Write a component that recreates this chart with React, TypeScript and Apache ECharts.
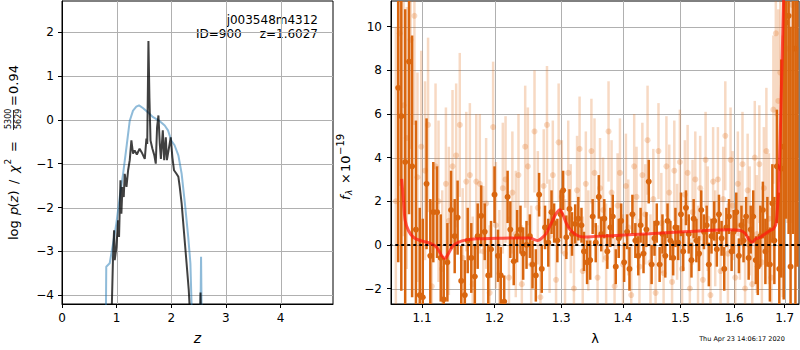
import React, { useEffect, useRef } from "react";
import * as echarts from "echarts";

// ---------- left panel: p(z) ----------
const pzTicksX = [0, 1, 2, 3, 4];
const pzTicksY = [-4, -3, -2, -1, 0, 1, 2];

const blueZ = [0.8, 0.81, 0.873, 0.935, 0.995, 1.057, 1.118, 1.18, 1.24, 1.3, 1.36, 1.41, 1.48, 1.575, 1.667, 1.79, 1.88, 1.94, 2.0, 2.06, 2.13, 2.19, 2.25, 2.31, 2.35, 2.38];
const blueY = [-5, -3.35, -3.27, -2.82, -2.36, -1.76, -1.23, -0.62, -0.02, 0.21, 0.3, 0.33, 0.27, 0.17, 0.06, -0.03, -0.13, -0.24, -0.47, -0.58, -0.81, -1.23, -1.91, -2.67, -3.27, -4.6];
const blueSpikeZ = [2.53, 2.545, 2.56];
const blueSpikeY = [-5, -3.12, -5];

const blackZ = [0.905, 0.934, 0.953, 0.965, 0.996, 1.026, 1.044, 1.07, 1.087, 1.106, 1.13, 1.148, 1.18, 1.21, 1.24, 1.27, 1.3, 1.33, 1.37, 1.42, 1.47, 1.515, 1.545, 1.56, 1.582, 1.6, 1.62, 1.655, 1.69, 1.716, 1.74, 1.765, 1.79, 1.81, 1.845, 1.87, 1.9, 1.92, 1.96, 1.99, 2.02, 2.05, 2.095, 2.13, 2.155, 2.19, 2.23, 2.28, 2.32, 2.35];
const blackY = [-4.6, -3.12, -2.52, -3.2, -2.9, -2.29, -2.67, -1.38, -2.14, -1.53, -1.76, -1.23, -1.53, -1.15, -0.92, -0.47, -0.77, -0.7, -0.79, -0.66, -0.77, -0.89, -0.43, -0.55, 1.8, 0.51, -0.47, -0.66, -0.81, -1.0, -0.17, 0.1, -0.55, -0.89, -0.24, -0.92, -0.4, -0.92, -0.62, -0.4, -0.85, -1.15, -1.23, -1.3, -1.53, -1.91, -2.52, -3.27, -3.88, -4.6];
const blackSpikeZ = [2.525, 2.535, 2.545];
const blackSpikeY = [-4.6, -3.94, -4.6];

// ---------- right panel: spectrum ----------
const specTicksLam = [1.1, 1.2, 1.3, 1.4, 1.5, 1.6, 1.7];
const specTicksY = [-2, 0, 2, 4, 6, 8, 10];

const lamDark = [1.069, 1.073, 1.078, 1.083, 1.087, 1.092, 1.097, 1.101, 1.106, 1.111, 1.115, 1.12, 1.125, 1.129, 1.134, 1.139, 1.144, 1.148, 1.153, 1.158, 1.162, 1.167, 1.172, 1.176, 1.181, 1.186, 1.191, 1.195, 1.2, 1.205, 1.209, 1.214, 1.219, 1.223, 1.228, 1.233, 1.238, 1.242, 1.247, 1.252, 1.256, 1.261, 1.266, 1.27, 1.275, 1.28, 1.285, 1.289, 1.294, 1.299, 1.303, 1.308, 1.313, 1.317, 1.322, 1.327, 1.332, 1.336, 1.341, 1.346, 1.35, 1.355, 1.36, 1.364, 1.369, 1.374, 1.379, 1.383, 1.388, 1.393, 1.397, 1.402, 1.407, 1.411, 1.416, 1.421, 1.426, 1.43, 1.435, 1.44, 1.444, 1.449, 1.454, 1.458, 1.463, 1.468, 1.473, 1.477, 1.482, 1.487, 1.491, 1.496, 1.501, 1.505, 1.51, 1.515, 1.52, 1.524, 1.529, 1.534, 1.538, 1.543, 1.548, 1.552, 1.557, 1.562, 1.567, 1.571, 1.576, 1.581, 1.585, 1.59, 1.595, 1.599, 1.604, 1.609, 1.614, 1.618, 1.623, 1.628, 1.632, 1.637, 1.642, 1.646, 1.651, 1.656, 1.661, 1.665, 1.67, 1.675, 1.679, 1.684, 1.689, 1.693, 1.698, 1.703, 1.708, 1.712, 1.717, 1.722, 1.726];
const fluxDark = [7.2, 5.9, 3.8, 8.4, 3.6, 0.7, -2.3, -2.4, 2.8, -0.5, 1.5, 1.5, -0.6, -2.5, -0.8, 1.6, 0.4, 1.25, -1.65, -2.3, 0.2, -0.6, -1.45, 0.4, 1.33, 0.6, -1.4, -0.2, 2.3, -0.5, -1.4, -2.6, 2.2, 0.7, -0.75, 0.4, 0.7, -0.4, 0.0, 0.4, -0.9, -1.4, 2.3, -1.1, 0.8, 0.1, 1.5, 1.0, 0.2, 1.4, 2.5, 0.35, 1.65, 0.5, 0.96, 1.2, 0.9, -0.3, -0.8, -0.7, 1.3, 0.1, 2.2, 0.5, 1.2, -0.3, 0.8, 1.3, -1.0, 0.3, 1.1, -0.8, 0.6, -1.1, 1.4, 0.2, -0.5, 0.9, -0.4, 0.7, 2.9, -0.9, 0.3, 1.0, -0.9, 0.5, -0.5, 1.1, 0.2, -0.6, 0.8, 0.1, 1.4, -0.3, 1.7, 0.5, -0.7, 1.2, 0.2, -0.4, 1.6, 0.6, 0.9, -0.9, 0.4, 1.1, -0.2, 1.4, 0.3, -1.1, 0.8, 1.3, -0.3, 0.6, 1.5, -0.5, 0.9, 0.2, 1.3, -0.6, 0.7, 1.3, -0.7, -1.0, 0.4, 1.6, -0.3, 0.6, -0.9, 1.9, 0.2, 3.6, -1.1, 3.5, 4.5, 10.2, 10.5, -1.0, 12.5, 9.0, 13.0];
const errDark = [8, 8, 7, 7, 6, 5, 4, 3.6, 3.0, 2.6, 2.3, 2.1, 2.0, 1.9, 1.8, 1.8, 1.7, 1.7, 1.6, 1.6, 1.5, 1.6, 1.4, 1.5, 1.4, 1.3, 1.4, 1.3, 1.3, 1.2, 1.3, 1.2, 1.2, 1.3, 1.1, 1.2, 1.1, 1.2, 1.1, 1.0, 1.1, 1.2, 1.0, 1.1, 1.0, 1.1, 1.0, 0.9, 1.0, 1.1, 0.9, 1.0, 0.9, 1.0, 0.9, 1.0, 0.8, 0.9, 1.0, 0.9, 0.8, 0.9, 1.0, 0.8, 0.9, 0.8, 0.9, 1.0, 0.8, 0.9, 0.8, 0.9, 0.8, 1.0, 0.9, 0.8, 0.9, 0.8, 0.9, 0.8, 1.0, 0.9, 0.8, 0.9, 0.8, 0.9, 1.0, 0.8, 0.9, 0.8, 0.9, 0.8, 1.0, 0.9, 0.8, 0.9, 0.8, 0.9, 1.0, 0.8, 0.9, 0.8, 0.9, 1.0, 0.8, 0.9, 0.8, 0.9, 0.8, 1.0, 0.9, 0.8, 0.9, 1.0, 0.9, 0.8, 0.9, 1.0, 0.9, 1.0, 1.1, 1.2, 1.1, 1.3, 1.4, 1.3, 1.5, 1.6, 1.7, 1.8, 2.0, 2.6, 3.5, 5, 7, 9, 10, 11, 12, 13, 14];

const lamLight = [1.066, 1.071, 1.076, 1.08, 1.085, 1.09, 1.094, 1.099, 1.104, 1.108, 1.113, 1.118, 1.122, 1.127, 1.132, 1.136, 1.141, 1.146, 1.151, 1.155, 1.16, 1.165, 1.169, 1.174, 1.179, 1.184, 1.188, 1.193, 1.198, 1.202, 1.207, 1.212, 1.216, 1.221, 1.226, 1.231, 1.235, 1.24, 1.245, 1.249, 1.254, 1.259, 1.264, 1.268, 1.273, 1.278, 1.282, 1.287, 1.292, 1.296, 1.301, 1.306, 1.311, 1.315, 1.32, 1.325, 1.329, 1.334, 1.339, 1.343, 1.348, 1.353, 1.358, 1.362, 1.367, 1.372, 1.376, 1.381, 1.386, 1.391, 1.395, 1.4, 1.405, 1.409, 1.414, 1.419, 1.423, 1.428, 1.433, 1.438, 1.442, 1.447, 1.452, 1.456, 1.461, 1.466, 1.47, 1.475, 1.48, 1.485, 1.489, 1.494, 1.499, 1.503, 1.508, 1.513, 1.517, 1.522, 1.527, 1.532, 1.536, 1.541, 1.546, 1.55, 1.555, 1.56, 1.564, 1.569, 1.574, 1.579, 1.583, 1.588, 1.593, 1.597, 1.602, 1.607, 1.611, 1.616, 1.621, 1.626, 1.63, 1.635, 1.64, 1.644, 1.649, 1.654, 1.658, 1.663, 1.668, 1.673, 1.677, 1.682, 1.687, 1.691, 1.696, 1.701, 1.705, 1.71, 1.715, 1.72, 1.724];
const fluxLight = [2.0, 9.7, 6.4, 4.9, 9.4, 10.5, 3.1, 4.5, 3.4, 5.5, -1.9, 3.6, 2.0, -1.1, 2.8, 1.1, 3.6, 4.1, 5.5, -0.6, 2.9, 3.2, -1.8, 2.9, 2.8, -0.3, 1.9, -2.2, 5.4, 0.9, -1.3, 2.6, 3.0, -1.5, 2.4, 0.5, 3.2, -1.8, 4.5, 3.6, -0.9, 5.2, 1.7, -2.4, 2.7, 5.5, 0.4, 3.2, -1.6, 4.7, 2.2, -0.4, 3.3, 1.2, -2.0, 2.5, 4.4, -1.2, 2.8, 0.2, 4.3, 3.3, -1.5, 2.6, 1.6, -0.6, 5.2, 2.4, -1.9, 1.8, 3.3, -0.9, 2.7, 0.8, -2.3, 3.6, 2.2, -1.0, 3.2, 1.4, 4.8, -0.8, 2.1, -2.2, 4.3, 1.0, -1.3, 3.6, 2.4, -1.7, 3.4, 0.6, 3.8, -1.1, 2.3, 3.3, -2.0, 1.5, 3.0, -0.5, 2.6, -1.6, 3.9, 1.2, -2.3, 2.9, 0.3, 3.0, -1.2, 2.1, 5.0, -0.4, 3.9, 1.8, -1.5, 2.8, 0.9, 3.7, -2.0, 2.5, 1.1, -1.8, 4.0, 0.5, 3.7, -0.8, 2.6, 4.3, 1.2, -1.5, 6.2, 9.7, 6.6, 7.9, 3.6, 12.0, 9.0, 14, 11, 13, 12];
const errLight = [8, 7, 6, 6, 5, 5, 4.8, 4.4, 4.1, 4.0, 3.9, 3.8, 3.7, 3.6, 3.5, 3.4, 3.5, 3.3, 3.3, 3.2, 3.2, 3.3, 3.1, 3.1, 3.2, 3.0, 3.0, 3.1, 3.0, 2.9, 2.9, 3.0, 2.9, 2.8, 2.8, 2.9, 2.8, 2.7, 2.8, 2.7, 2.7, 2.8, 2.6, 2.7, 2.6, 2.7, 2.6, 2.5, 2.6, 2.7, 2.6, 2.5, 2.4, 2.5, 2.6, 2.5, 2.4, 2.5, 2.4, 2.3, 2.4, 2.5, 2.4, 2.3, 2.4, 2.5, 2.3, 2.4, 2.2, 2.4, 2.5, 2.3, 2.4, 2.2, 2.3, 2.4, 2.3, 2.2, 2.4, 2.3, 2.5, 2.2, 2.3, 2.4, 2.2, 2.3, 2.4, 2.3, 2.2, 2.4, 2.3, 2.2, 2.4, 2.3, 2.5, 2.2, 2.3, 2.4, 2.2, 2.3, 2.4, 2.3, 2.2, 2.4, 2.3, 2.5, 2.2, 2.4, 2.3, 2.4, 2.5, 2.3, 2.4, 2.5, 2.3, 2.4, 2.5, 2.4, 2.5, 2.6, 2.5, 2.6, 2.6, 2.7, 2.7, 2.8, 2.8, 2.9, 3.0, 3.2, 3.4, 3.8, 4.2, 5.0, 6.0, 7.0, 8.0, 9, 10, 11, 12];

const modelLam = [1.0735, 1.0758, 1.078, 1.0822, 1.0886, 1.0974, 1.1106, 1.1195, 1.1262, 1.1307, 1.1352, 1.142, 1.1488, 1.1603, 1.1742, 1.2026, 1.2316, 1.2513, 1.2588, 1.2638, 1.2689, 1.2765, 1.2841, 1.2918, 1.298, 1.3021, 1.3083, 1.3151, 1.3255, 1.3361, 1.3548, 1.4097, 1.467, 1.5265, 1.589, 1.6115, 1.6213, 1.6291, 1.6356, 1.6421, 1.6508, 1.6607, 1.6708, 1.6775, 1.6829, 1.6876, 1.691, 1.6943, 1.6977, 1.701];
const modelFlux = [3.03, 2.04, 1.12, 0.66, 0.35, 0.2, 0.08, -0.11, -0.49, -0.62, -0.41, -0.03, 0.12, 0.23, 0.28, 0.3, 0.32, 0.32, 0.24, 0.2, 0.28, 0.51, 0.97, 1.42, 1.61, 1.42, 0.97, 0.66, 0.43, 0.36, 0.39, 0.46, 0.55, 0.63, 0.69, 0.66, 0.52, 0.23, 0.12, 0.28, 0.35, 0.51, 0.66, 0.74, 1.04, 2.65, 5.1, 8.16, 11.2, 14];

const zeroLam = [1.05, 1.74];
const zeroFlux = [0, 0];

const FONT = "DejaVu Sans";
const DARK = "#d9660f";
const LIGHT = "rgba(225,115,35,0.27)";
const GRIDC = "#b0b0b0";

const fmtMinus = (v: number) => (v < 0 ? "\u2212" + Math.abs(v) : String(v));

function errRender(color: string) {
  return (params: any, api: any) => {
    const x = api.value(0);
    const y = api.value(1);
    const e = api.value(2);
    const top = api.coord([x, y + e]);
    const bot = api.coord([x, y - e]);
    const c = api.coord([x, y]);
    return {
      type: "group",
      children: [
        { type: "line", shape: { x1: top[0], y1: top[1], x2: bot[0], y2: bot[1] }, style: { stroke: color, lineWidth: 2.5 } },
        { type: "circle", shape: { cx: c[0], cy: c[1], r: 3 }, style: { fill: color } },
      ],
    };
  };
}

// grid lines: item = [xValue, yValue, kind]; kind 0 = vertical line at xValue, 1 = horizontal line at yValue
function gridRender(params: any, api: any) {
  const cs = params.coordSys;
  const kind = api.value(2);
  const p = api.coord([api.value(0), api.value(1)]);
  if (kind === 0) {
    const x = Math.round(p[0]) + 0.5;
    return { type: "line", shape: { x1: x, y1: cs.y, x2: x, y2: cs.y + cs.height }, style: { stroke: GRIDC, lineWidth: 1 } };
  }
  const y = Math.round(p[1]) + 0.5;
  return { type: "line", shape: { x1: cs.x, y1: y, x2: cs.x + cs.width, y2: y }, style: { stroke: GRIDC, lineWidth: 1 } };
}

function gridSeries(idx: number, xs: number[], ys: number[], x0: number, y0: number) {
  return {
    type: "custom",
    xAxisIndex: idx,
    yAxisIndex: idx,
    data: [...xs.map((v) => [v, y0, 0]), ...ys.map((v) => [x0, v, 1])],
    renderItem: gridRender,
    z: 0,
    silent: true,
    encode: { x: 0, y: 1 },
  };
}

function txt(x: number, y: number, text: string, opts: any = {}) {
  return {
    type: "text",
    x,
    y,
    style: {
      text,
      fontFamily: FONT,
      fontSize: 13,
      fill: "#000",
      align: "left",
      verticalAlign: "middle",
      ...opts,
    },
  };
}

export default function App() {
  const ref = useRef<HTMLDivElement>(null);
  useEffect(() => {
    const chart = echarts.init(ref.current!, null, { renderer: "svg" });
    const pair = (xs: number[], ys: number[]) => xs.map((x, i) => [x, ys[i]]);
    const logPair = (xs: number[], ys: number[]) => xs.map((x, i) => [Math.log(x), ys[i]]);
    const triple = (xs: number[], ys: number[], es: number[]) => xs.map((x, i) => [Math.log(x), ys[i], es[i]]);
    const specTickPos = specTicksLam.map((l) => Math.log(l));

    const axisCommon = {
      axisLine: { show: true, onZero: false, lineStyle: { color: "#000", width: 1 } },
      splitLine: { show: false },
    };
    const tickCommon = { show: true, inside: false, length: 4, lineStyle: { color: "#000", width: 1 } };
    const labelCommon = { color: "#000", fontSize: 12, fontFamily: FONT, margin: 8 };

    const option: any = {
      animation: false,
      backgroundColor: "#fff",
      grid: [
        { left: 62, top: 1, width: 271, height: 303, show: true, borderColor: "#000", borderWidth: 1, backgroundColor: "transparent" },
        { left: 391, top: 1, width: 408, height: 303, show: true, borderColor: "#000", borderWidth: 1, backgroundColor: "transparent" },
      ],
      xAxis: [
        {
          gridIndex: 0, type: "value", min: 0, max: 4.96,
          ...axisCommon,
          axisTick: { ...tickCommon, customValues: pzTicksX },
          axisLabel: { ...labelCommon, customValues: pzTicksX, formatter: (v: number) => fmtMinus(v) },
          name: "z", nameLocation: "middle", nameGap: 27,
          nameTextStyle: { fontFamily: FONT, fontSize: 14, fontStyle: "italic", color: "#000" },
        },
        {
          gridIndex: 1, type: "value", min: Math.log(1.0598), max: Math.log(1.7294),
          ...axisCommon,
          axisTick: { ...tickCommon, customValues: specTickPos },
          axisLabel: { ...labelCommon, customValues: specTickPos, formatter: (v: number) => Math.exp(v).toFixed(1) },
          name: "\u03bb", nameLocation: "middle", nameGap: 28,
          nameTextStyle: { fontFamily: FONT, fontSize: 13, color: "#000" },
        },
      ],
      yAxis: [
        {
          gridIndex: 0, type: "value", min: -4.2, max: 2.71,
          ...axisCommon,
          axisTick: { ...tickCommon, customValues: pzTicksY },
          axisLabel: { ...labelCommon, customValues: pzTicksY, formatter: (v: number) => fmtMinus(v) },
        },
        {
          gridIndex: 1, type: "value", min: -2.71, max: 11.18,
          ...axisCommon,
          axisTick: { ...tickCommon, customValues: specTicksY },
          axisLabel: { ...labelCommon, margin: 9, customValues: specTicksY, formatter: (v: number) => fmtMinus(v) },
        },
      ],
      series: [
        gridSeries(0, pzTicksX, pzTicksY, 2, 0),
        gridSeries(1, specTickPos, specTicksY, Math.log(1.4), 0),
        {
          type: "line", xAxisIndex: 0, yAxisIndex: 0, data: pair(blueZ, blueY), showSymbol: false, z: 2,
          lineStyle: { color: "rgba(31,119,180,0.5)", width: 2 },
        },
        {
          type: "line", xAxisIndex: 0, yAxisIndex: 0, data: pair(blueSpikeZ, blueSpikeY), showSymbol: false, z: 2,
          lineStyle: { color: "rgba(31,119,180,0.5)", width: 2 },
        },
        {
          type: "line", xAxisIndex: 0, yAxisIndex: 0, data: pair(blackZ, blackY), showSymbol: false, z: 3,
          lineStyle: { color: "rgba(0,0,0,0.75)", width: 2 },
        },
        {
          type: "line", xAxisIndex: 0, yAxisIndex: 0, data: pair(blackSpikeZ, blackSpikeY), showSymbol: false, z: 3,
          lineStyle: { color: "rgba(0,0,0,0.75)", width: 2 },
        },
        {
          type: "custom", xAxisIndex: 1, yAxisIndex: 1, data: triple(lamLight, fluxLight, errLight),
          renderItem: errRender(LIGHT), clip: true, z: 1, encode: { x: 0, y: 1 },
        },
        {
          type: "custom", xAxisIndex: 1, yAxisIndex: 1, data: triple(lamDark, fluxDark, errDark),
          renderItem: errRender(DARK), clip: true, z: 2, encode: { x: 0, y: 1 },
        },
        {
          type: "line", xAxisIndex: 1, yAxisIndex: 1, data: logPair(zeroLam, zeroFlux), showSymbol: false, z: 3,
          lineStyle: { color: "#000", width: 2, type: [3, 3] },
        },
        {
          type: "line", xAxisIndex: 1, yAxisIndex: 1, data: logPair(modelLam, modelFlux), showSymbol: false, z: 4,
          smooth: 0.3,
          lineStyle: { color: "rgba(255,25,15,0.72)", width: 3 },
        },
      ],
      graphic: {
        elements: [
          txt(318, 20, "j003548m4312", { align: "right", fontSize: 12 }),
          txt(196, 34, "ID=900", { align: "left", fontSize: 12 }),
          txt(318, 34, "z=1.6027", { align: "right", fontSize: 12 }),
          txt(742, 339, "Thu Apr 23 14:06:17 2020", { align: "center", fontSize: 6.5 }),
          {
            type: "group", x: 13, y: 240, rotation: Math.PI / 2,
            children: [
              txt(0, 0, "log"),
              txt(25, 0, "p", { fontStyle: "italic" }),
              txt(32.5, 0, "(", {}),
              txt(37.5, 0, "z", { fontStyle: "italic" }),
              txt(44.5, 0, ")", {}),
              txt(56, 0, "/", {}),
              txt(67, 0, "\u03c7", { fontStyle: "italic" }),
              txt(75.5, -5, "2", { fontSize: 9 }),
              txt(88, 0, "=", {}),
              txt(111, -4.5, "5300", { fontSize: 8, align: "left" }),
              { type: "line", shape: { x1: 110, y1: 0.5, x2: 130, y2: 0.5 }, style: { stroke: "#000", lineWidth: 0.8 } },
              txt(111, 5.5, "5629", { fontSize: 8, align: "left" }),
              txt(134, 0, "=", {}),
              txt(146, 0, "0.94", {}),
            ],
          },
          {
            type: "group", x: 345, y: 200, rotation: Math.PI / 2,
            children: [
              txt(0, 0, "f", { fontStyle: "italic" }),
              txt(5, 4, "\u03bb", { fontSize: 9, fontStyle: "italic" }),
              txt(16, 0, "\u00d7", {}),
              txt(28, 0, "10", {}),
              txt(45, -5, "\u221219", { fontSize: 10 }),
            ],
          },
        ],
      },
    };
    chart.setOption(option);
    return () => chart.dispose();
  }, []);
  return <div ref={ref} style={{ position: "fixed", left: 0, top: 0, width: 800, height: 350 }} />;
}
